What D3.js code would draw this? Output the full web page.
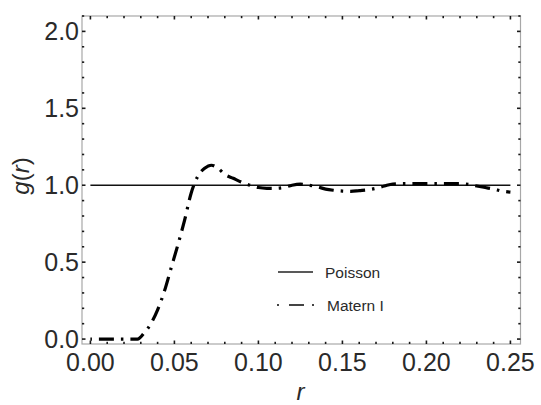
<!DOCTYPE html>
<html>
<head>
<meta charset="utf-8">
<script src="https://cdn.jsdelivr.net/npm/d3@7"></script>
<style>
  body { margin: 0; background: #fff; }
  text { font-family: "Liberation Sans", Arial, sans-serif; fill: #2a2a2a; }
</style>
</head>
<body>
<div id="chart"></div>
<script>
// data
const rValues = [0, 0.01, 0.02, 0.028, 0.032, 0.036, 0.040, 0.044, 0.048, 0.052, 0.056, 0.060,
  0.064, 0.068, 0.072, 0.076, 0.080, 0.085, 0.090, 0.095, 0.100, 0.105, 0.110, 0.115,
  0.120, 0.125, 0.130, 0.135, 0.140, 0.145, 0.150, 0.155, 0.160, 0.165, 0.170, 0.175,
  0.180, 0.185, 0.190, 0.195, 0.200, 0.205, 0.210, 0.215, 0.220, 0.225, 0.230, 0.235,
  0.240, 0.245, 0.250];
const maternValues = [0, 0, 0, 0, 0.04, 0.10, 0.19, 0.31, 0.46, 0.61, 0.77, 0.95,
  1.06, 1.11, 1.13, 1.11, 1.07, 1.045, 1.02, 1.0, 0.985, 0.98, 0.98, 0.985,
  1.0, 1.007, 1.0, 0.99, 0.975, 0.967, 0.962, 0.96, 0.965, 0.97, 0.98, 0.995,
  1.008, 1.01, 1.01, 1.01, 1.01, 1.01, 1.01, 1.01, 1.01, 1.005, 0.995, 0.985,
  0.975, 0.962, 0.955];
const poissonR = [0, 0.25];
const poissonValues = [1, 1];
const xTickLabels = ['0.00', '0.05', '0.10', '0.15', '0.20', '0.25'];
const yTickLabels = ['0.0', '0.5', '1.0', '1.5', '2.0'];
const seriesNames = ['Poisson', 'Matern I'];

const width = 541, height = 405;
const margin = {left: 82, right: 520.5, top: 16, bottom: 344};

const svg = d3.select('#chart').append('svg')
  .attr('width', width)
  .attr('height', height);

const x = d3.scaleLinear().domain([-0.005, 0.256]).range([margin.left, margin.right]);
const y = d3.scaleLinear().domain([-0.032, 2.1]).range([margin.bottom, margin.top]);

// frame
svg.append('rect')
  .attr('x', margin.left).attr('y', margin.top)
  .attr('width', margin.right - margin.left).attr('height', margin.bottom - margin.top)
  .attr('fill', 'none')
  .attr('stroke', '#a8a8a8')
  .attr('stroke-width', 1.2);

const xMinor = d3.range(0, 26).map(i => i / 100);
const yMinor = d3.range(0, 22).map(i => i / 10);
const isMajorX = v => Math.abs(v * 20 - Math.round(v * 20)) < 1e-6;
const isMajorY = v => Math.abs(v * 2 - Math.round(v * 2)) < 1e-6;

const ticks = svg.append('g').attr('stroke', '#1a1a1a').attr('stroke-width', 1.6);
xMinor.forEach(v => {
  const len = isMajorX(v) ? 3.5 : 2.2;
  ticks.append('line').attr('x1', x(v)).attr('x2', x(v)).attr('y1', margin.bottom).attr('y2', margin.bottom - len);
  ticks.append('line').attr('x1', x(v)).attr('x2', x(v)).attr('y1', margin.top).attr('y2', margin.top + len);
});
yMinor.forEach(v => {
  const len = isMajorY(v) ? 3.5 : 2.2;
  ticks.append('line').attr('x1', margin.left).attr('x2', margin.left + len).attr('y1', y(v)).attr('y2', y(v));
  ticks.append('line').attr('x1', margin.right).attr('x2', margin.right - len).attr('y1', y(v)).attr('y2', y(v));
});

// tick labels
svg.append('g').selectAll('text')
  .data(xTickLabels)
  .enter().append('text')
    .attr('x', d => x(+d))
    .attr('y', margin.bottom + 27)
    .attr('text-anchor', 'middle')
    .style('font-size', '25px')
    .text(d => d);

svg.append('g').selectAll('text')
  .data(yTickLabels)
  .enter().append('text')
    .attr('x', margin.left - 3)
    .attr('y', d => y(+d) + 8.5)
    .attr('text-anchor', 'end')
    .style('font-size', '25px')
    .text(d => d);

// axis labels
svg.append('text')
  .attr('x', x(0.125))
  .attr('y', 400)
  .attr('text-anchor', 'middle')
  .style('font-size', '24px')
  .style('font-style', 'italic')
  .text('r');

svg.append('text')
  .attr('transform', 'translate(29,176) rotate(-90)')
  .attr('text-anchor', 'middle')
  .style('font-size', '24px')
  .html('<tspan font-style="italic">g</tspan>(<tspan font-style="italic">r</tspan>)');

// curves
const line = d3.line().x(d => x(d[0])).y(d => y(d[1]));

svg.append('path')
  .datum(d3.zip(poissonR, poissonValues))
  .attr('d', line)
  .attr('fill', 'none')
  .attr('stroke', '#111')
  .attr('stroke-width', 1.4);

svg.append('path')
  .datum(d3.zip(rValues, maternValues))
  .attr('d', d3.line().curve(d3.curveMonotoneX).x(d => x(d[0])).y(d => y(d[1])))
  .attr('fill', 'none')
  .attr('stroke', '#000')
  .attr('stroke-width', 3.2)
  .attr('stroke-dasharray', '2.5,7,15,7')
  .attr('stroke-dashoffset', 1);

// legend
const legend = svg.append('g');
legend.append('line')
  .attr('x1', 278).attr('x2', 313).attr('y1', 272).attr('y2', 272)
  .attr('stroke', '#222').attr('stroke-width', 1.3);
legend.append('line')
  .attr('x1', 277).attr('x2', 315).attr('y1', 305).attr('y2', 305)
  .attr('stroke', '#444').attr('stroke-width', 2)
  .attr('stroke-dasharray', '2,10,15,8,2');
legend.selectAll('text.lg')
  .data(seriesNames)
  .enter().append('text')
    .attr('class', 'lg')
    .attr('x', (d, i) => i === 0 ? 325 : 327)
    .attr('y', (d, i) => i === 0 ? 278 : 311)
    .style('font-size', '15.5px')
    .text(d => d);
</script>
</body>
</html>
